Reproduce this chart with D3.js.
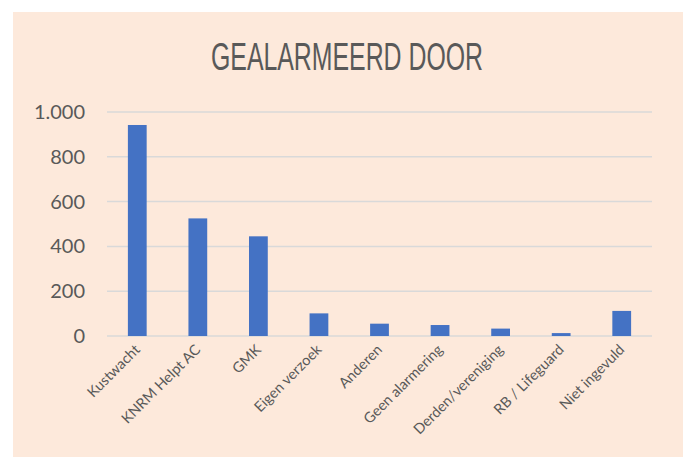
<!DOCTYPE html>
<html lang="nl">
<head>
    <meta charset="UTF-8">
    <title>Gealarmeerd door</title>
    <script src="https://d3js.org/d3.v7.min.js"></script>
    <style>
        body { margin: 0; background: #fff; }
        text { fill: #595959; }
    </style>
</head>
<body>
    <svg id="chart"></svg>
    <script>
        const categories = ["Kustwacht", "KNRM Helpt AC", "GMK", "Eigen verzoek", "Anderen",
            "Geen alarmering", "Derden/vereniging", "RB / Lifeguard", "Niet ingevuld"];
        const values = [942, 525, 445, 101, 55, 49, 33, 13, 112];
        const yTicks = [0, 200, 400, 600, 800, 1000];
        const tickLabels = ["0", "200", "400", "600", "800", "1.000"];

        const width = 683, height = 457;
        const margin = { left: 107, right: 31, top: 112, bottom: 121 };

        const svg = d3.select("#chart")
            .attr("width", width)
            .attr("height", height);

        // peach background panel
        svg.append("rect")
            .attr("x", 13).attr("y", 12)
            .attr("width", width - 13).attr("height", height - 12)
            .attr("fill", "#FDE9DB");

        const x = d3.scaleBand()
            .domain(categories)
            .range([margin.left, width - margin.right])
            .paddingInner(0.69)
            .paddingOuter(0.345);

        const y = d3.scaleLinear()
            .domain([0, 1000])
            .range([height - margin.bottom, margin.top]);

        // gridlines
        svg.append("g")
            .selectAll("line")
            .data(yTicks)
            .join("line")
            .attr("x1", margin.left)
            .attr("x2", width - margin.right)
            .attr("y1", d => y(d))
            .attr("y2", d => y(d))
            .attr("stroke", "#D9D9D9")
            .attr("stroke-width", 1.5);

        // y labels
        svg.append("g")
            .selectAll("text")
            .data(yTicks)
            .join("text")
            .attr("x", 85)
            .attr("y", d => y(d))
            .attr("dy", "0.35em")
            .attr("text-anchor", "end")
            .style("font-family", "Lato, 'Open Sans', sans-serif")
            .style("font-size", "20px")
            .text((d, i) => tickLabels[i]);

        // bars
        svg.append("g")
            .selectAll("rect")
            .data(values)
            .join("rect")
            .attr("x", (d, i) => x(categories[i]))
            .attr("y", d => y(d))
            .attr("width", x.bandwidth())
            .attr("height", d => y(0) - y(d))
            .attr("fill", "#4472C4");

        // x labels, rotated
        svg.append("g")
            .selectAll("text")
            .data(categories)
            .join("text")
            .attr("transform", d => `translate(${x(d) + x.bandwidth() / 2},${y(0) + 11}) rotate(-45)`)
            .attr("text-anchor", "end")
            .attr("dy", "0.35em")
            .style("font-family", "Lato, 'Open Sans', sans-serif")
            .style("font-size", "14.5px")
            .text(d => d);

        // title (condensed look via textLength)
        svg.append("text")
            .attr("x", 347)
            .attr("y", 70)
            .attr("text-anchor", "middle")
            .attr("textLength", 272)
            .attr("lengthAdjust", "spacingAndGlyphs")
            .style("font-family", "'Liberation Sans', Arial, sans-serif")
            .style("font-size", "38px")
            .text("GEALARMEERD DOOR");
    </script>
</body>
</html>
